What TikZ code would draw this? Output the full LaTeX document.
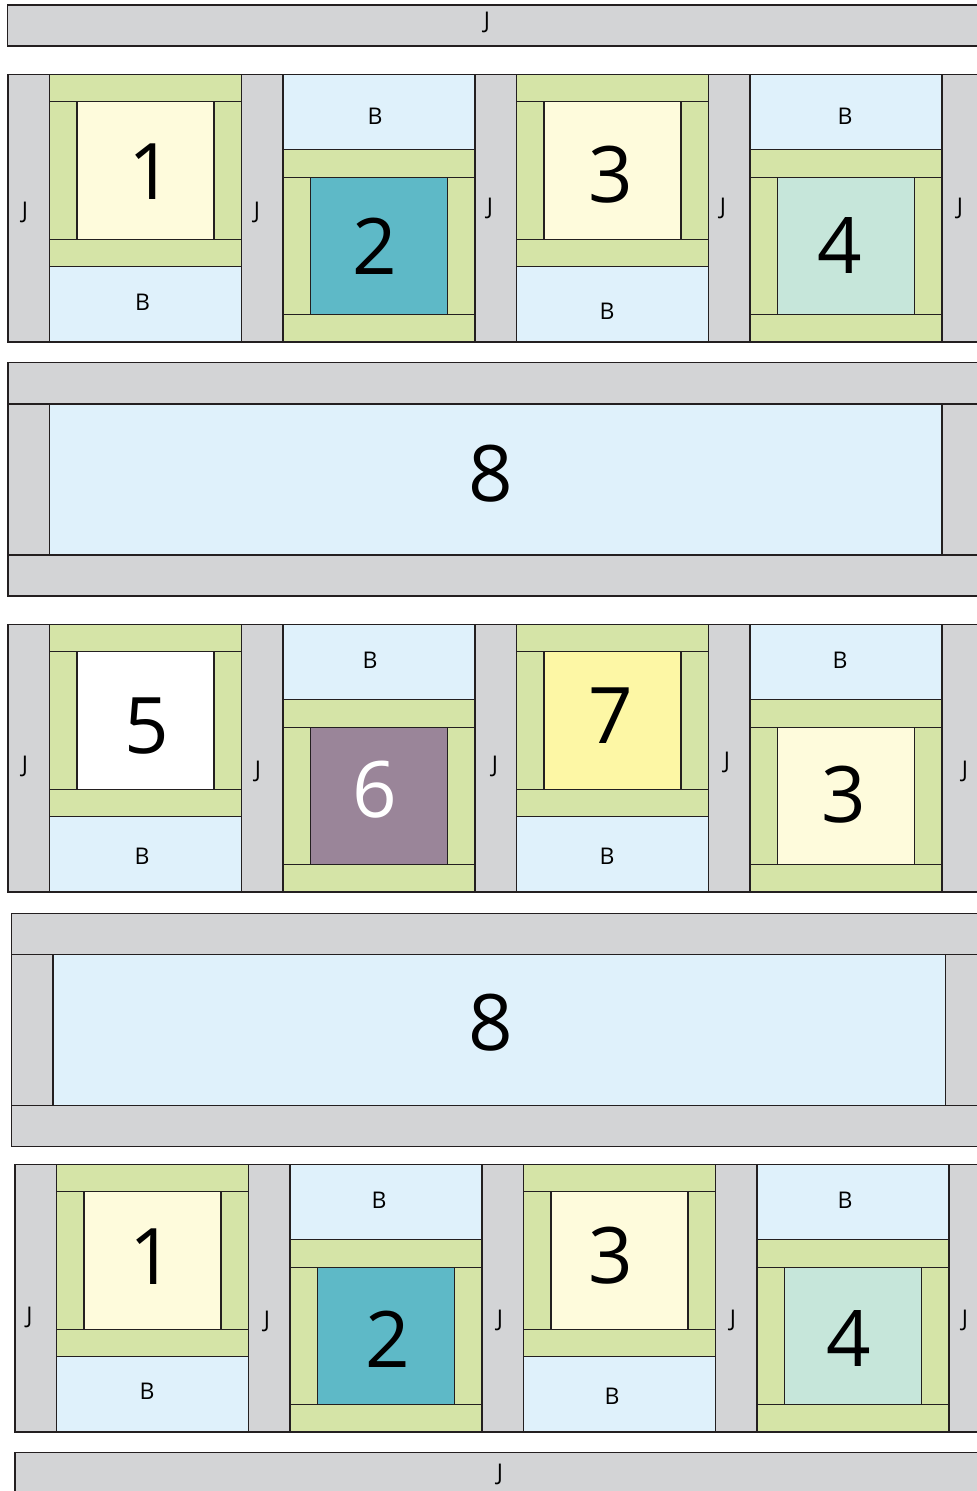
\documentclass[tikz,border=0pt]{standalone}
\usepackage{fontspec}
\setmainfont{Open Sans}
\definecolor{jgray}{HTML}{D3D4D6}
\definecolor{bblue}{HTML}{DFF1FB}
\definecolor{fgreen}{HTML}{D5E4A7}
\definecolor{cream}{HTML}{FEFBDC}
\definecolor{teal}{HTML}{5EB9C7}
\definecolor{mint}{HTML}{C6E6DA}
\definecolor{plum}{HTML}{9A8599}
\definecolor{lemon}{HTML}{FDF7A5}
\definecolor{ink}{HTML}{231F20}
\tikzset{
  piece/.style={draw=ink, line width=1.1pt},
  jpiece/.style={piece, fill=jgray},
  bpiece/.style={piece, fill=bblue},
  gpiece/.style={piece, fill=fgreen},
  lbl/.style={inner sep=0pt, font=\fontsize{23}{23}\selectfont},
  num/.style={inner sep=0pt, font=\fontsize{78}{78}\selectfont},
}
% frame (green border + centre square) with top-left (#1,#2), centre colour #3
\newcommand\qframe[3]{%
  \draw[gpiece] (#1,#2) rectangle ++(192,192.2);
  \draw[piece] (#1,#2+27.4) -- ++(192,0);
  \draw[piece] (#1,#2+164.8) -- ++(192,0);
  \draw[piece, fill=#3] (#1+27.5,#2+27.4) rectangle ++(137,137.4);
}
% block type A: frame on top, B below
\newcommand\qblockA[3]{%
  \qframe{#1}{#2}{#3}
  \draw[bpiece] (#1,#2+192.2) rectangle ++(192,75.5);
}
% block type B: B on top, frame below
\newcommand\qblockB[3]{%
  \draw[bpiece] (#1,#2) rectangle ++(192,75.5);
  \qframe{#1}{#2+75.5}{#3}
}
% sashing columns of a block row
\newcommand\qjcols[2]{%
  \foreach \k in {0,...,4}{
    \draw[jpiece] (#1+\k*233.5,#2) rectangle ++(41.5,267.7);
  }
}
% wide sashing row with centre panel
\newcommand\qwide[2]{%
  \draw[jpiece] (#1,#2) rectangle (1000,#2+41.3);
  \draw[jpiece] (#1,#2+41.3) rectangle ++(41.5,151);
  \draw[bpiece] (#1+41.5,#2+41.3) rectangle ++(892.5,151);
  \draw[jpiece] (#1+934,#2+41.3) rectangle (1000,#2+192.3);
  \draw[jpiece] (#1,#2+192.3) rectangle (1000,#2+233.3);
}
\begin{document}
\begin{tikzpicture}[x=1pt,y=-1pt]
\useasboundingbox (0,0) rectangle (977,1491);
\clip (0,0) rectangle (977,1491);

% top sashing
\draw[jpiece] (7.5,5) rectangle (1000,46);
\node[lbl] (jtop) at (487,22) {J};

% row 1
\qjcols{8}{74.3}
\qblockA{49.5}{74.3}{cream}
\qblockB{283}{74.3}{teal}
\qblockA{516.5}{74.3}{cream}
\qblockB{750}{74.3}{mint}
\node[lbl] (r1j1) at (25,212) {J};
\node[num] (r1n1) at (151,172) {1};
\node[lbl] (r1b1) at (142.5,302) {B};
\node[lbl] (r1j2) at (257,212) {J};
\node[lbl] (r1b2) at (375,116) {B};
\node[num] (r1n2) at (375,246) {2};
\node[lbl] (r1j3) at (490,208) {J};
\node[num] (r1n3) at (611,175) {3};
\node[lbl] (r1b3) at (607,311) {B};
\node[lbl] (r1j4) at (723,208) {J};
\node[lbl] (r1b4) at (845,116) {B};
\node[num] (r1n4) at (840,246) {4};
\node[lbl] (r1j5) at (960,208) {J};

% row 2
\qwide{8}{362.7}
\node[num] (r2n8) at (491,474) {8};

% row 3
\qjcols{8}{624.3}
\qblockA{49.5}{624.3}{white}
\qblockB{283}{624.3}{plum}
\qblockA{516.5}{624.3}{lemon}
\qblockB{750}{624.3}{cream}
\node[lbl] (r3j1) at (25,766) {J};
\node[num] (r3n5) at (147,726) {5};
\node[lbl] (r3b1) at (142,856) {B};
\node[lbl] (r3j2) at (258,771) {J};
\node[lbl] (r3b2) at (370,660) {B};
\node[num, text=white] (r3n6) at (375,790) {6};
\node[lbl] (r3j3) at (495,766) {J};
\node[num] (r3n7) at (611,716) {7};
\node[lbl] (r3b3) at (607,856) {B};
\node[lbl] (r3j4) at (727,762) {J};
\node[lbl] (r3b4) at (840,660) {B};
\node[num] (r3n3) at (844,795) {3};
\node[lbl] (r3j5) at (965,771) {J};

% row 4
\qwide{11.5}{913.3}
\node[num] (r4n8) at (491,1023) {8};

% row 5
\qjcols{15}{1164.3}
\qblockA{56.5}{1164.3}{cream}
\qblockB{290}{1164.3}{teal}
\qblockA{523.5}{1164.3}{cream}
\qblockB{757}{1164.3}{mint}
\node[lbl] (r5j1) at (29.5,1317) {J};
\node[num] (r5n1) at (152,1257) {1};
\node[lbl] (r5b1) at (147,1391) {B};
\node[lbl] (r5j2) at (267,1321) {J};
\node[lbl] (r5b2) at (379,1200) {B};
\node[num] (r5n2) at (388,1339) {2};
\node[lbl] (r5j3) at (500,1320) {J};
\node[num] (r5n3) at (611,1256) {3};
\node[lbl] (r5b3) at (612,1396) {B};
\node[lbl] (r5j4) at (733,1320) {J};
\node[lbl] (r5b4) at (845,1200) {B};
\node[num] (r5n4) at (849,1338) {4};
\node[lbl] (r5j5) at (965,1320) {J};

% bottom sashing
\draw[jpiece] (15,1452.7) rectangle (1000,1520);
\node[lbl] (jbot) at (500,1474) {J};
\end{tikzpicture}
\end{document}
